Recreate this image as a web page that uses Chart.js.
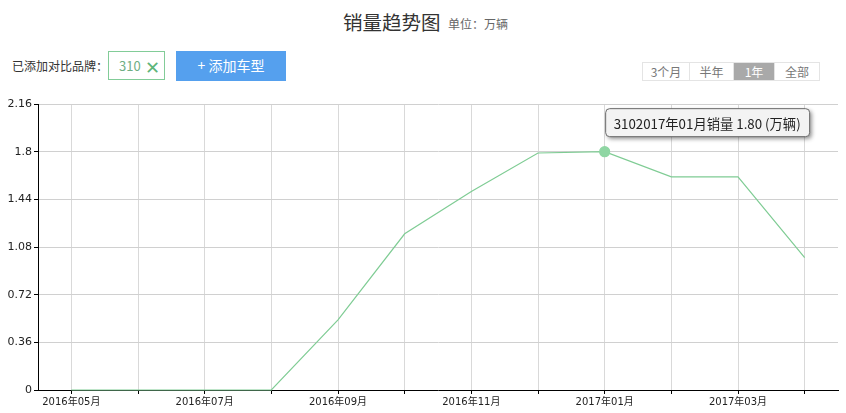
<!DOCTYPE html>
<html>
<head>
<meta charset="utf-8">
<script src="https://cdn.jsdelivr.net/npm/chart.js@4/dist/chart.umd.min.js"></script>
<style>
  html, body { margin: 0; padding: 0; background: #fff; width: 846px; height: 413px; overflow: hidden; }
  body { position: relative; font-family: "Noto Sans CJK SC", "DejaVu Sans", sans-serif; }
  .title { position: absolute; left: 343px; top: 7px; font-size: 19.5px; color: #333; white-space: nowrap; }
  .unit { position: absolute; left: 448px; top: 15px; font-size: 12px; color: #666; white-space: nowrap; }
  .added { position: absolute; left: 12px; top: 57px; font-size: 12px; color: #333; white-space: nowrap; }
  .brand { position: absolute; left: 108px; top: 51px; width: 57px; height: 29px; border: 1px solid #82cc98; box-sizing: border-box; }
  .brand .n { position: absolute; left: 10px; top: 4px; font-size: 13px; color: #6fae84; }
  .brand .x { position: absolute; left: 36px; top: 1px; font-size: 18px; color: #5fb57a; }
  .btn { position: absolute; left: 176px; top: 51px; width: 110px; height: 30px; background: #55a0ee; color: #fff; font-size: 14px; text-align: center; line-height: 29px; }
  .seg { position: absolute; left: 642px; top: 62px; height: 19px; display: flex; border: 1px solid #e4e4e4; box-sizing: border-box; }
  .seg div { font-size: 12px; color: #777; text-align: center; line-height: 17px; border-right: 1px solid #e4e4e4; }
  .seg div:last-child { border-right: none; }
  .seg .on { background: #a9a9a9; color: #fff; }
  #wrap { position: absolute; left: 0; top: 95px; width: 846px; height: 318px; }
</style>
</head>
<body>
<div class="title">销量趋势图</div>
<div class="unit">单位：万辆</div>
<div class="added">已添加对比品牌：</div>
<div class="brand"><span class="n">310</span><span class="x">✕</span></div>
<div class="btn">+ 添加车型</div>
<div class="seg">
  <div style="width:46px">3个月</div>
  <div style="width:43px">半年</div>
  <div class="on" style="width:40px">1年</div>
  <div style="width:44px">全部</div>
</div>
<div id="wrap"><canvas id="c" width="846" height="318"></canvas></div>
<script>
const seriesName = '310';
const months = ['2016年05月','2016年06月','2016年07月','2016年08月','2016年09月','2016年10月',
                '2016年11月','2016年12月','2017年01月','2017年02月','2017年03月','2017年04月'];
const sales = [0, 0, 0, 0, 0.53, 1.18, 1.50, 1.79, 1.80, 1.61, 1.61, 1.00];
const yTickLabels = ['0', '0.36', '0.72', '1.08', '1.44', '1.8', '2.16'];
const highlightIndex = 8;
const unitText = '万辆';

const lineColor = '#7fcc94';

const pointRadii = sales.map((v, i) => i === highlightIndex ? 5 : 0);

const tooltipPlugin = {
  id: 'fixedTip',
  afterDatasetsDraw(chart) {
    const meta = chart.getDatasetMeta(0);
    const pt = meta.data[highlightIndex];
    if (!pt) return;
    const ctx = chart.ctx;
    const text = seriesName + months[highlightIndex] + '销量 ' + sales[highlightIndex].toFixed(2) + ' (' + unitText + ')';
    ctx.save();
    ctx.font = '13.3px "Noto Sans CJK SC", "DejaVu Sans", sans-serif';
    const w = ctx.measureText(text).width + 17;
    const h = 28;
    const x = pt.x + 1, y = pt.y - 43;
    const r = 4;
    ctx.beginPath();
    ctx.moveTo(x + r, y);
    ctx.lineTo(x + w - r, y);
    ctx.quadraticCurveTo(x + w, y, x + w, y + r);
    ctx.lineTo(x + w, y + h - r);
    ctx.quadraticCurveTo(x + w, y + h, x + w - r, y + h);
    ctx.lineTo(x + r, y + h);
    ctx.quadraticCurveTo(x, y + h, x, y + h - r);
    ctx.lineTo(x, y + r);
    ctx.quadraticCurveTo(x, y, x + r, y);
    ctx.closePath();
    ctx.shadowColor = 'rgba(0,0,0,0.45)';
    ctx.shadowBlur = 4;
    ctx.shadowOffsetX = 2;
    ctx.shadowOffsetY = 2;
    ctx.fillStyle = '#f3f3f3';
    ctx.fill();
    ctx.shadowColor = 'transparent';
    ctx.lineWidth = 1;
    ctx.strokeStyle = '#6a6a6a';
    ctx.stroke();
    ctx.fillStyle = '#222';
    ctx.textBaseline = 'middle';
    ctx.fillText(text, x + 8, y + h / 2 + 1);
    ctx.restore();
  }
};

new Chart(document.getElementById('c'), {
  type: 'line',
  data: {
    labels: months,
    datasets: [{
      label: seriesName,
      data: sales,
      borderColor: lineColor,
      borderWidth: 1.2,
      backgroundColor: '#8fd6a3',
      pointBackgroundColor: '#8fd6a3',
      pointBorderColor: '#8fd6a3',
      pointRadius: pointRadii,
      pointHoverRadius: pointRadii,
      tension: 0,
      fill: false,
      clip: false
    }]
  },
  plugins: [tooltipPlugin],
  options: {
    responsive: false,
    animation: false,
    events: [],
    layout: { padding: { top: 9, right: 8, left: 0, bottom: 0 } },
    plugins: {
      legend: { display: false },
      tooltip: { enabled: false },
      title: { display: false }
    },
    scales: {
      x: {
        type: 'category',
        offset: true,
        grid: {
          offset: false,
          color: '#d9d9d9',
          lineWidth: 1,
          drawTicks: true,
          tickLength: 4,
          tickColor: '#000'
        },
        border: { display: true, color: '#000', width: 1 },
        ticks: {
          autoSkip: false,
          maxRotation: 0,
          minRotation: 0,
          padding: 2,
          color: '#222',
          font: { family: '"DejaVu Sans", "Noto Sans CJK SC", sans-serif', size: 10 },
          callback: function (v, i) { return i % 2 === 0 ? months[i] : ''; }
        },
        afterFit(scale) { scale.height = 23; }
      },
      y: {
        min: 0,
        max: 2.16,
        grid: {
          color: '#d0d0d0',
          lineWidth: 1,
          drawTicks: true,
          tickLength: 4,
          tickColor: '#000'
        },
        border: { display: true, color: '#000', width: 1 },
        ticks: {
          stepSize: 0.36,
          padding: 2,
          color: '#222',
          font: { family: '"DejaVu Sans", sans-serif', size: 11 },
          callback: function (v, i) { return yTickLabels[i] !== undefined ? yTickLabels[i] : String(Math.round(v * 100) / 100); }
        },
        afterFit(scale) { scale.width = 38; }
      }
    }
  }
});
</script>
</body>
</html>
